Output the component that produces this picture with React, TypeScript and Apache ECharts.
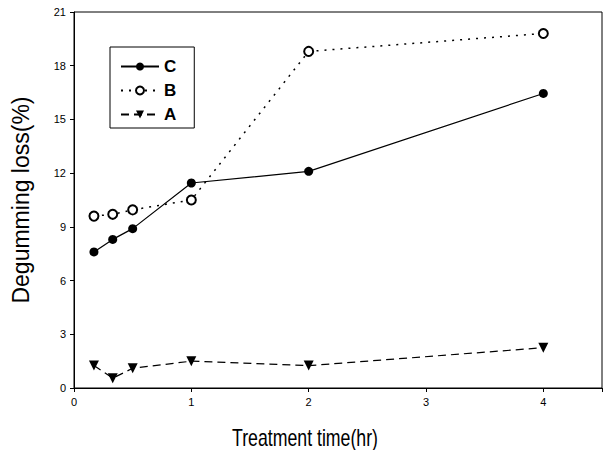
import React, { useEffect, useRef } from "react";
import * as echarts from "echarts";

const times = [0.17, 0.33, 0.5, 1, 2, 4];
const seriesC = [7.6, 8.3, 8.9, 11.45, 12.1, 16.45];
const seriesB = [9.6, 9.7, 9.95, 10.5, 18.8, 19.8];
const seriesA = [1.25, 0.55, 1.1, 1.5, 1.25, 2.25];
const yTicks = { min: 0, max: 21, interval: 3 };
const xTicks = { min: 0, max: 4.5, interval: 1 };
const xTitle = "Treatment time(hr)";
const yTitle = "Degumming loss(%)";

const pair = (ys: number[]) => times.map((t, i) => [t, ys[i]]);

export default function App() {
  const ref = useRef<HTMLDivElement>(null);
  useEffect(() => {
    if (!ref.current) return;
    const chart = echarts.init(ref.current, null, { renderer: "svg" });
    const narrow = "'Liberation Sans Narrow', 'Liberation Sans', Arial, sans-serif";
    const regular = "'Liberation Sans', Arial, sans-serif";
    chart.setOption({
      animation: false,
      backgroundColor: "#fff",
      grid: {
        left: 74,
        right: 1,
        top: 12,
        bottom: 62,
        show: true,
        borderColor: "#000",
        borderWidth: 1,
      },
      legend: {
        orient: "vertical",
        left: 110,
        top: 47,
        data: ["C", "B", "A"],
        borderColor: "#000",
        borderWidth: 1,
        padding: [11, 18, 5, 10],
        itemGap: 7,
        itemWidth: 38,
        itemHeight: 10,
        textStyle: { fontFamily: regular, fontWeight: "bold", fontSize: 17, color: "#000" },
      },
      graphic: [
        {
          type: "text",
          x: 305,
          y: 426,
          scaleX: 0.77,
          style: { text: xTitle, font: `23px ${regular}`, fill: "#000", textAlign: "center", textVerticalAlign: "top" },
        },
      ],
      xAxis: {
        type: "value",
        min: xTicks.min,
        max: xTicks.max,
        interval: xTicks.interval,
        axisLine: { lineStyle: { color: "#000", width: 1 } },
        axisTick: { show: true, length: 4, lineStyle: { color: "#000" } },
        axisLabel: {
          color: "#000",
          fontFamily: narrow,
          fontSize: 11,
          margin: 8,
          formatter: (v: number) => (Number.isInteger(v) ? String(v) : ""),
        },
        splitLine: { show: false },
      },
      yAxis: {
        type: "value",
        min: yTicks.min,
        max: yTicks.max,
        interval: yTicks.interval,
        name: yTitle,
        nameLocation: "middle",
        nameGap: 42,
        nameTextStyle: { fontFamily: regular, fontSize: 23, color: "#000" },
        axisLine: { show: true, lineStyle: { color: "#000", width: 1 } },
        axisTick: { show: true, length: 4, lineStyle: { color: "#000" } },
        axisLabel: { color: "#000", fontFamily: narrow, fontSize: 11, margin: 8 },
        splitLine: { show: false },
      },
      series: [
        {
          name: "C",
          type: "line",
          data: pair(seriesC),
          symbol: "circle",
          symbolSize: 9,
          itemStyle: { color: "#000" },
          lineStyle: { color: "#000", width: 1.2, type: "solid" },
        },
        {
          name: "B",
          type: "line",
          data: pair(seriesB),
          symbol: "emptyCircle",
          symbolSize: 9,
          showAllSymbol: true,
          itemStyle: { color: "#000", borderColor: "#000", borderWidth: 1.2 },
          lineStyle: { color: "#000", width: 1.5, type: [2, 6] },
        },
        {
          name: "A",
          type: "line",
          data: pair(seriesA),
          symbol: "triangle",
          symbolRotate: 180,
          symbolSize: 10,
          itemStyle: { color: "#000" },
          lineStyle: { color: "#000", width: 1.2, type: [8, 5] },
        },
      ],
    });
    return () => chart.dispose();
  }, []);
  return <div ref={ref} style={{ width: 605, height: 450, position: "absolute", left: 0, top: 0 }} />;
}
